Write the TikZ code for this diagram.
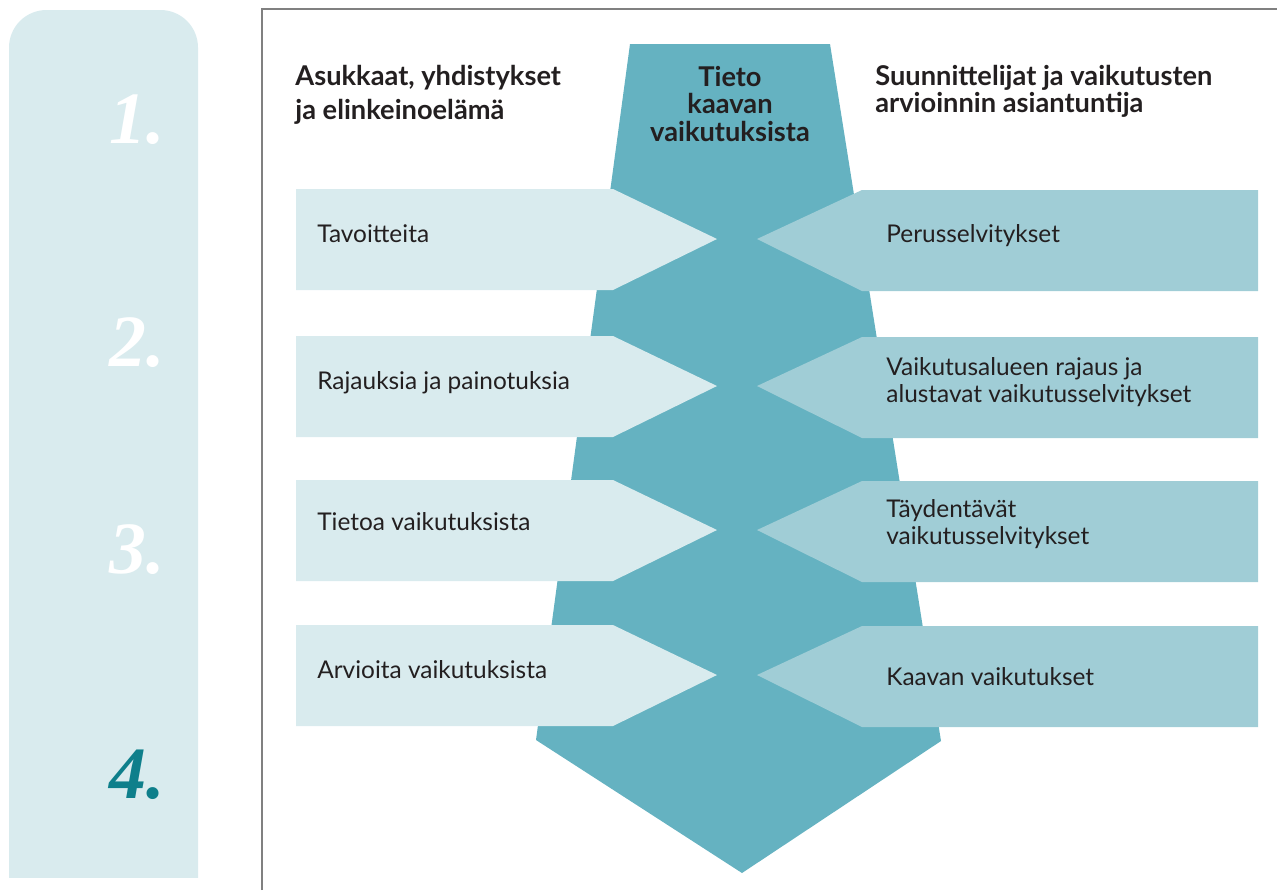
\documentclass[tikz,border=0pt]{standalone}
\usepackage{fontspec}
\setsansfont{Lato}
\newfontfamily\numerofont{Liberation Serif}
\usepackage{tikz}

\definecolor{vaalea}{HTML}{D9EBEE}
\definecolor{keski}{HTML}{A0CDD6}
\definecolor{tumma}{HTML}{65B2C1}
\definecolor{teksti}{HTML}{231F20}
\definecolor{nelja}{HTML}{0E7F8B}

\tikzset{
  otsikko/.style={font=\sffamily\fontsize{15.5}{19.3}\selectfont\bfseries, text=teksti, inner sep=0pt},
  teksti/.style={font=\sffamily\fontsize{13.9}{15.2}\selectfont, text=teksti, inner sep=0pt, anchor=west, align=left},
  numero/.style={font=\numerofont\bfseries\itshape\fontsize{42}{42}\selectfont, inner sep=0pt},
}

\begin{document}
\begin{tikzpicture}[x=0.02cm, y=-0.02cm] % pikselit
\newcommand{\vasen}{296}
\newcommand{\karki}{613}
\newcommand{\oikea}{1258}
\useasboundingbox (0,0) rectangle (1277,890);

% sivupalkki
\begin{scope}
\clip (0,0) rectangle (220,877);
\fill [vaalea, rounded corners=0.75cm] (9,10) rectangle (198,940);
\end{scope}
\node[numero, text=white] (n1) at (137,120) {1.};
\node[numero, text=white] (n2) at (137,343) {2.};
\node[numero, text=white] (n3) at (137,550) {3.};
\node[numero, text=nelja] (n4) at (137,775) {4.};

% kehys
\draw [gray, line width=0.7pt] (262,890) -- (262,9) -- (1277,9);

% iso nuoli
\coordinate (A) at (630,44);
\coordinate (B) at (830,44);
\coordinate (C) at (941,741);
\coordinate (D) at (742,873);
\coordinate (E) at (536,740);
\fill [tumma] (A) -- (B) -- (C) -- (D) -- (E) -- cycle;

% rivit
\foreach \c/\vas/\oik/\vy/\oy [count=\i] in {
    239/Tavoitteita/Perusselvitykset/234/236,
    386/Rajauksia ja painotuksia/{Vaikutusalueen rajaus ja\\alustavat vaikutusselvitykset}/383/382,
    530/Tietoa vaikutuksista/{Täydentävät\\vaikutusselvitykset}/522/524,
    675/Arvioita vaikutuksista/Kaavan vaikutukset/670/677}{
  \fill [vaalea] (\vasen,\c-50) -- (\karki,\c-50) -- (717,\c) -- (\karki,\c+51) -- (\vasen,\c+51) -- cycle;	% vasen
  \fill [keski] (862,\c-49) -- (\oikea,\c-49) -- (\oikea,\c+52) -- (862,\c+52) -- (757,\c) -- cycle;	% oikea
  \node[teksti] (vas-\i) at (317,\vy) {\vas};
  \node[teksti] (oik-\i) at (886,\oy) {\oik};
}

% otsikot
\node[otsikko, anchor=west, align=left] (asukkaat) at (295,95) {Asukkaat, yhdistykset\\ja elinkeinoelämä};
\node[otsikko, align=center, font=\sffamily\fontsize{15.5}{15.5}\selectfont\bfseries] (tieto) at (730,104) {Tieto\\kaavan\\vaikutuksista};
\node[otsikko, anchor=west, align=left, font=\sffamily\fontsize{15.5}{15.3}\selectfont\bfseries] (suunnittelijat) at (875,91) {Suunnittelijat ja vaikutusten\\arvioinnin asiantuntija};
\end{tikzpicture}
\end{document}
